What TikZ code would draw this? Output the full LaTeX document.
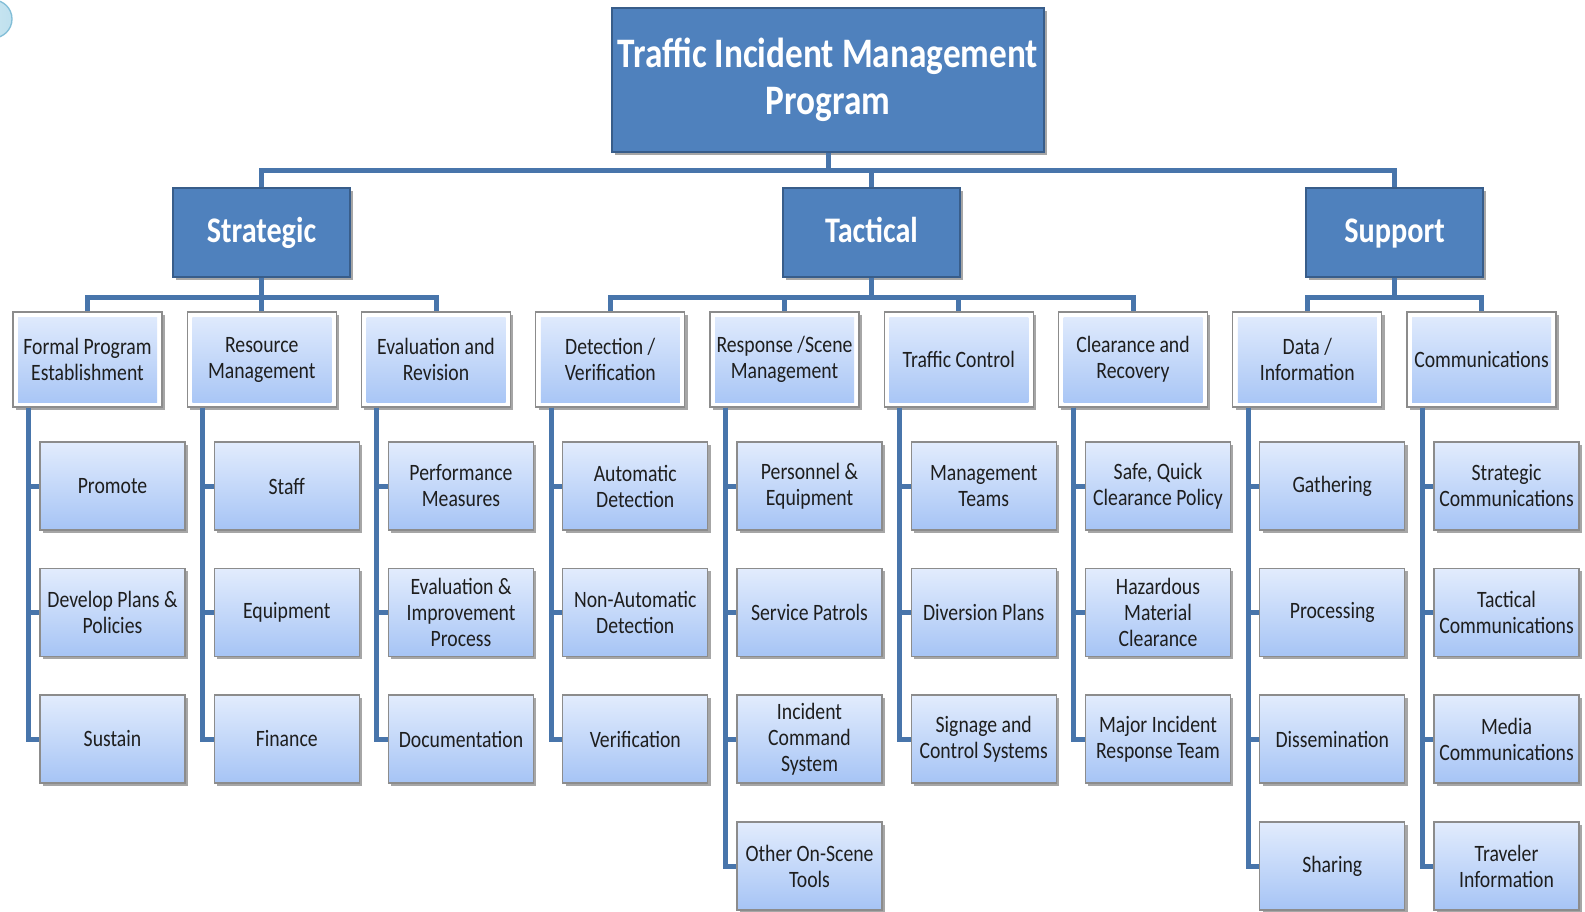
\documentclass[tikz,border=0pt]{standalone}
\usepackage{fontspec}
\setmainfont{Carlito}[FakeStretch=0.84]
\usetikzlibrary{shadows}
\definecolor{boxblue}{RGB}{79,129,189}
\definecolor{boxedge}{RGB}{56,93,138}
\definecolor{linec}{RGB}{72,117,171}
\definecolor{lbtop}{RGB}{226,236,253}
\definecolor{lbbot}{RGB}{166,196,245}
\definecolor{txt}{RGB}{30,30,30}
\definecolor{framec}{RGB}{140,140,140}
\definecolor{circfill}{RGB}{190,224,238}
\definecolor{circedge}{RGB}{130,190,215}
\tikzset{
  shad/.style={drop shadow={shadow xshift=2.2pt,shadow yshift=-2.2pt,opacity=0.35,fill=black}},
  mainbox/.style={draw=boxedge, line width=1pt, fill=boxblue, text=white, align=center, inner sep=0pt, shad},
  topbox/.style={mainbox, minimum width=324pt, minimum height=108pt, font=\fontsize{31.5}{35.25}\selectfont\bfseries},
  catbox/.style={mainbox, minimum width=132.75pt, minimum height=66.75pt, text height=19pt, text depth=3.6pt,
    font=\fontsize{27}{30}\selectfont\bfseries},
  areabox/.style={draw=framec, line width=0.8pt, fill=white, minimum width=111.75pt, minimum height=71.25pt,
    align=center, inner sep=0pt, text=txt, font=\fontsize{17.6}{19.5}\selectfont, shad,
    path picture={\shade[top color=lbtop,bottom color=lbbot]
      ([xshift=3.75pt,yshift=-3.75pt]path picture bounding box.north west) rectangle
      ([xshift=-3.75pt,yshift=3.75pt]path picture bounding box.south east);}},
  itembox/.style={draw=framec, line width=0.8pt, top color=lbtop, bottom color=lbbot, minimum width=108.75pt,
    minimum height=66pt, align=center, inner sep=0pt, text=txt, font=\fontsize{17.6}{19.5}\selectfont, shad},
  conn/.style={draw=linec, line width=3.75pt},
}
\begin{document}
\begin{tikzpicture}[x=0.75pt,y=-0.75pt]
\useasboundingbox (0,0) rectangle (1585,911);
\begin{scope}
\clip (0,0) rectangle (1585,911);
\draw[circedge, line width=1pt, left color=circfill!70!white, right color=circfill] (-7,19) circle[radius=14.25pt];
\end{scope}

% top
\node[topbox] (tim) at (828,80) {Traffic Incident Management\\Program};
% level 1
\node[catbox] (strat) at (261.5,232.5) {Strategic};
\node[catbox] (tact) at (871.5,232.5) {Tactical};
\node[catbox] (supp) at (1394.5,232.5) {Support};
% level 2
\node[areabox] (fpe)  at (87.5,359.5)   {Formal Program\\Establishment};
\node[areabox] (resm) at (261.75,359.5) {Resource\\Management};
\node[areabox] (evr)  at (436,359.5)    {Evaluation and\\Revision};
\node[areabox] (detv) at (610.25,359.5) {Detection /\\Verification};
\node[areabox] (resp) at (784.5,359.5)  {Response /Scene\\Management};
\node[areabox] (trc)  at (958.75,359.5) {Traffic Control};
\node[areabox] (clr)  at (1133,359.5)   {Clearance and\\Recovery};
\node[areabox] (dat)  at (1307.25,359.5){Data /\\Information};
\node[areabox] (com)  at (1481.5,359.5) {Communications};
% level 3
\node[itembox] (promote)  at (112.5,486)   {Promote};
\node[itembox] (devplans) at (112.5,612.5) {Develop Plans \&\\Policies};
\node[itembox] (sustain)  at (112.5,739)   {Sustain};
\node[itembox] (staff)    at (286.75,486)  {Staff};
\node[itembox] (equip)    at (286.75,612.5){Equipment};
\node[itembox] (finance)  at (286.75,739)  {Finance};
\node[itembox] (perf)     at (461,486)     {Performance\\Measures};
\node[itembox] (evimp)    at (461,612.5)   {Evaluation \&\\Improvement\\Process};
\node[itembox] (docu)     at (461,739)     {Documentation};
\node[itembox] (autodet)  at (635.25,486)  {Automatic\\Detection};
\node[itembox] (nonauto)  at (635.25,612.5){Non-Automatic\\Detection};
\node[itembox] (verif)    at (635.25,739)  {Verification};
\node[itembox] (perseq)   at (809.5,486)   {Personnel \&\\Equipment};
\node[itembox] (servpat)  at (809.5,612.5) {Service Patrols};
\node[itembox] (ics)      at (809.5,739)   {Incident\\Command\\System};
\node[itembox] (otheros)  at (809.5,866)   {Other On-Scene\\Tools};
\node[itembox] (mgmt)     at (983.75,486)  {Management\\Teams};
\node[itembox] (divers)   at (983.75,612.5){Diversion Plans};
\node[itembox] (signage)  at (983.75,739)  {Signage and\\Control Systems};
\node[itembox] (safeq)    at (1158,486)    {Safe, Quick\\Clearance Policy};
\node[itembox] (hazmat)   at (1158,612.5)  {Hazardous\\Material\\Clearance};
\node[itembox] (majinc)   at (1158,739)    {Major Incident\\Response Team};
\node[itembox] (gather)   at (1332.25,486) {Gathering};
\node[itembox] (process)  at (1332.25,612.5){Processing};
\node[itembox] (dissem)   at (1332.25,739) {Dissemination};
\node[itembox] (sharing)  at (1332.25,866) {Sharing};
\node[itembox] (strcomm)  at (1506.5,486)  {Strategic\\Communications};
\node[itembox] (taccomm)  at (1506.5,612.5){Tactical\\Communications};
\node[itembox] (medcomm)  at (1506.5,739)  {Media\\Communications};
\node[itembox] (travinfo) at (1506.5,866)  {Traveler\\Information};

% buses
\coordinate (busT) at (828,170);
\coordinate (busS) at (261.5,297);
\coordinate (busC) at (871.5,297);
\coordinate (busP) at (1394.5,297);

\draw[conn] (strat.north) |- (busT) -| (supp.north);
\draw[conn] (tim.south) -- (busT);
\draw[conn] (tact.north) -- (tact.north |- busT);

\draw[conn] (fpe.north) |- (busS) -| (evr.north);
\draw[conn] (strat.south) -- (busS);
\draw[conn] (resm.north) -- (resm.north |- busS);

\draw[conn] (detv.north) |- (busC) -| (clr.north);
\draw[conn] (tact.south) -- (busC);
\draw[conn] (resp.north) -- (resp.north |- busC);
\draw[conn] (trc.north) -- (trc.north |- busC);

\draw[conn] (dat.north) |- (busP) -| (com.north);
\draw[conn] (supp.south) -- (busP);

% level 3 connectors
\foreach \p/\kids in {fpe/{promote,devplans,sustain}, resm/{staff,equip,finance}, evr/{perf,evimp,docu},
  detv/{autodet,nonauto,verif}, resp/{perseq,servpat,ics,otheros}, trc/{mgmt,divers,signage},
  clr/{safeq,hazmat,majinc}, dat/{gather,process,dissem,sharing}, com/{strcomm,taccomm,medcomm,travinfo}}{
  \foreach \k in \kids {
    \draw[conn] ([xshift=12pt]\p.south west) |- (\k.west);
  }
}
\end{tikzpicture}
\end{document}
